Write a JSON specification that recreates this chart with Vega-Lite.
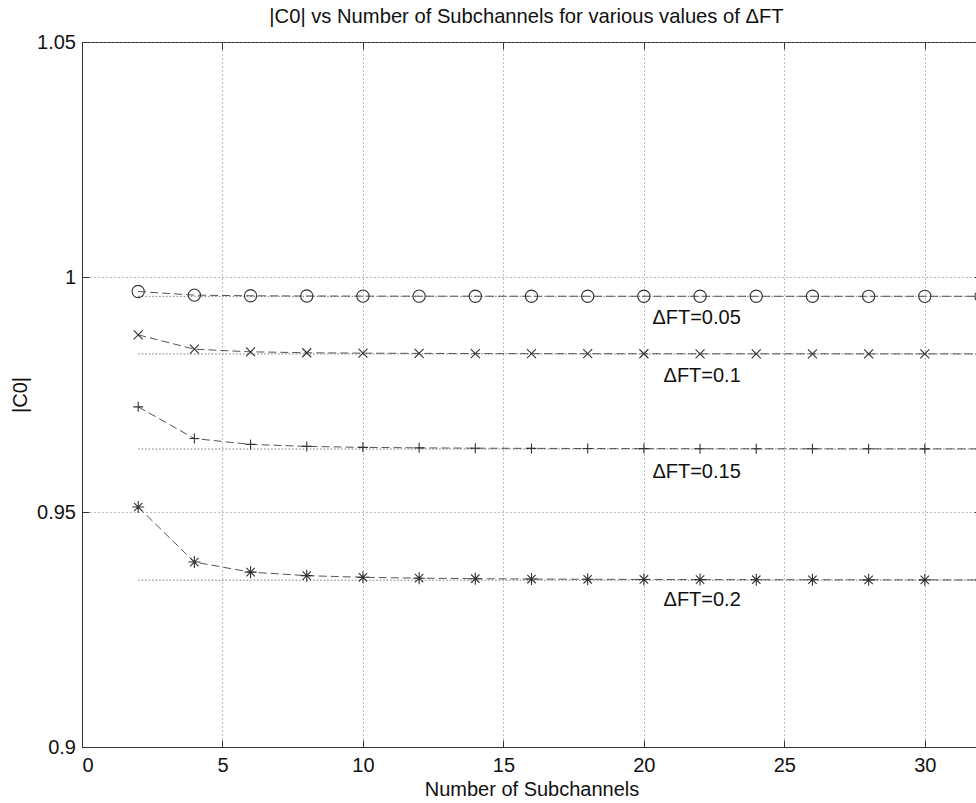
{
  "$schema": "https://vega.github.io/schema/vega-lite/v6.json",
  "width": 899,
  "height": 705,
  "autosize": "none",
  "padding": {"left": 82, "top": 42, "right": 0, "bottom": 56},
  "background": "white",
  "config": {
    "font": "Liberation Sans",
    "view": {"stroke": "#333", "strokeWidth": 1},
    "axis": {
      "labelFont": "Liberation Sans",
      "titleFont": "Liberation Sans",
      "labelFontSize": 20,
      "titleFontSize": 20,
      "labelColor": "#111",
      "titleColor": "#111",
      "titleFontWeight": "normal",
      "domainColor": "#333",
      "tickColor": "#333",
      "gridColor": "#777",
      "gridDash": [1, 3],
      "gridOpacity": 1,
      "gridWidth": 1
    }
  },
  "title": {
    "text": "|C0| vs Number of Subchannels for various values of ΔFT",
    "fontSize": 20.2,
    "fontWeight": "normal",
    "font": "Liberation Sans",
    "color": "#111",
    "offset": 5,
    "dx": -5
  },
  "datasets": {
    "curves": [
      {"eps": 0.05, "N": 2, "C0": 0.996917},
      {"eps": 0.05, "N": 4, "C0": 0.996144},
      {"eps": 0.05, "N": 6, "C0": 0.996002},
      {"eps": 0.05, "N": 8, "C0": 0.995952},
      {"eps": 0.05, "N": 10, "C0": 0.995929},
      {"eps": 0.05, "N": 12, "C0": 0.995916},
      {"eps": 0.05, "N": 14, "C0": 0.995909},
      {"eps": 0.05, "N": 16, "C0": 0.995904},
      {"eps": 0.05, "N": 18, "C0": 0.995901},
      {"eps": 0.05, "N": 20, "C0": 0.995898},
      {"eps": 0.05, "N": 22, "C0": 0.995896},
      {"eps": 0.05, "N": 24, "C0": 0.995895},
      {"eps": 0.05, "N": 26, "C0": 0.995894},
      {"eps": 0.05, "N": 28, "C0": 0.995893},
      {"eps": 0.05, "N": 30, "C0": 0.995893},
      {"eps": 0.05, "N": 32, "C0": 0.995892},
      {"eps": 0.1, "N": 2, "C0": 0.987688},
      {"eps": 0.1, "N": 4, "C0": 0.984646},
      {"eps": 0.1, "N": 6, "C0": 0.984081},
      {"eps": 0.1, "N": 8, "C0": 0.983885},
      {"eps": 0.1, "N": 10, "C0": 0.983794},
      {"eps": 0.1, "N": 12, "C0": 0.983744},
      {"eps": 0.1, "N": 14, "C0": 0.983715},
      {"eps": 0.1, "N": 16, "C0": 0.983695},
      {"eps": 0.1, "N": 18, "C0": 0.983682},
      {"eps": 0.1, "N": 20, "C0": 0.983672},
      {"eps": 0.1, "N": 22, "C0": 0.983665},
      {"eps": 0.1, "N": 24, "C0": 0.98366},
      {"eps": 0.1, "N": 26, "C0": 0.983656},
      {"eps": 0.1, "N": 28, "C0": 0.983653},
      {"eps": 0.1, "N": 30, "C0": 0.98365},
      {"eps": 0.1, "N": 32, "C0": 0.983648},
      {"eps": 0.15, "N": 2, "C0": 0.97237},
      {"eps": 0.15, "N": 4, "C0": 0.965629},
      {"eps": 0.15, "N": 6, "C0": 0.964387},
      {"eps": 0.15, "N": 8, "C0": 0.963953},
      {"eps": 0.15, "N": 10, "C0": 0.963753},
      {"eps": 0.15, "N": 12, "C0": 0.963645},
      {"eps": 0.15, "N": 14, "C0": 0.963579},
      {"eps": 0.15, "N": 16, "C0": 0.963536},
      {"eps": 0.15, "N": 18, "C0": 0.963507},
      {"eps": 0.15, "N": 20, "C0": 0.963486},
      {"eps": 0.15, "N": 22, "C0": 0.963471},
      {"eps": 0.15, "N": 24, "C0": 0.963459},
      {"eps": 0.15, "N": 26, "C0": 0.96345},
      {"eps": 0.15, "N": 28, "C0": 0.963442},
      {"eps": 0.15, "N": 30, "C0": 0.963437},
      {"eps": 0.15, "N": 32, "C0": 0.963432},
      {"eps": 0.2, "N": 2, "C0": 0.951057},
      {"eps": 0.2, "N": 4, "C0": 0.939347},
      {"eps": 0.2, "N": 6, "C0": 0.937205},
      {"eps": 0.2, "N": 8, "C0": 0.936456},
      {"eps": 0.2, "N": 10, "C0": 0.936109},
      {"eps": 0.2, "N": 12, "C0": 0.93592},
      {"eps": 0.2, "N": 14, "C0": 0.935807},
      {"eps": 0.2, "N": 16, "C0": 0.935734},
      {"eps": 0.2, "N": 18, "C0": 0.935683},
      {"eps": 0.2, "N": 20, "C0": 0.935647},
      {"eps": 0.2, "N": 22, "C0": 0.935616},
      {"eps": 0.2, "N": 24, "C0": 0.935596},
      {"eps": 0.2, "N": 26, "C0": 0.93558},
      {"eps": 0.2, "N": 28, "C0": 0.935567},
      {"eps": 0.2, "N": 30, "C0": 0.935557},
      {"eps": 0.2, "N": 32, "C0": 0.935549}
    ],
    "limits": [
      {"eps": 0.05, "N": 2, "C0": 0.995888},
      {"eps": 0.05, "N": 32, "C0": 0.995888},
      {"eps": 0.1, "N": 2, "C0": 0.983632},
      {"eps": 0.1, "N": 32, "C0": 0.983632},
      {"eps": 0.15, "N": 2, "C0": 0.963397},
      {"eps": 0.15, "N": 32, "C0": 0.963397},
      {"eps": 0.2, "N": 2, "C0": 0.935489},
      {"eps": 0.2, "N": 32, "C0": 0.935489}
    ],
    "labels": [
      {"label": "ΔFT=0.05", "N": 23.45, "C0": 0.9913},
      {"label": "ΔFT=0.1", "N": 23.45, "C0": 0.979},
      {"label": "ΔFT=0.15", "N": 23.45, "C0": 0.9586},
      {"label": "ΔFT=0.2", "N": 23.45, "C0": 0.9313}
    ]
  },
  "layer": [
    {
      "data": {"name": "limits"},
      "mark": {"type": "line", "color": "#777", "strokeWidth": 1, "strokeDash": [1.5, 2]},
      "encoding": {
        "x": {
          "field": "N", "type": "quantitative",
          "scale": {"domain": [0, 32], "nice": false, "zero": false},
          "axis": {
            "orient": "bottom",
            "values": [0, 5, 10, 15, 20, 25, 30],
            "grid": true,
            "tickSize": -7,
            "labelPadding": 15,
            "title": "Number of Subchannels",
            "titlePadding": 4
          }
        },
        "y": {
          "field": "C0", "type": "quantitative",
          "scale": {"domain": [0.9, 1.05], "nice": false, "zero": false},
          "axis": {
            "orient": "left",
            "values": [0.9, 0.95, 1, 1.05],
            "format": "~g",
            "grid": true,
            "tickSize": -7,
            "labelPadding": 13.5,
            "title": "|C0|",
            "titlePadding": 6
          }
        },
        "detail": {"field": "eps", "type": "nominal"}
      }
    },
    {
      "data": {"name": "curves"},
      "mark": {"type": "line", "color": "#555", "strokeWidth": 1, "strokeDash": [8, 4]},
      "encoding": {
        "x": {"field": "N", "type": "quantitative", "axis": null},
        "y": {"field": "C0", "type": "quantitative", "axis": null},
        "detail": {"field": "eps", "type": "nominal"}
      }
    },
    {
      "data": {"name": "curves"},
      "mark": {"type": "point", "filled": false, "stroke": "#333", "strokeWidth": 1.1, "opacity": 1},
      "encoding": {
        "x": {"field": "N", "type": "quantitative", "axis": null},
        "y": {"field": "C0", "type": "quantitative", "axis": null},
        "shape": {
          "field": "eps", "type": "nominal",
          "scale": {
            "domain": [0.05, 0.1, 0.15, 0.2],
            "range": ["circle", "M-1,-1L1,1M-1,1L1,-1", "M-1,0L1,0M0,-1L0,1", "M-1,0L1,0M0,-1L0,1M-0.7,-0.7L0.7,0.7M-0.7,0.7L0.7,-0.7"]
          },
          "legend": null
        },
        "size": {
          "field": "eps", "type": "nominal",
          "scale": {"type": "ordinal", "domain": [0.05, 0.1, 0.15, 0.2], "range": [150, 81, 100, 144]},
          "legend": null
        }
      }
    },
    {
      "data": {"name": "labels"},
      "mark": {"type": "text", "align": "right", "baseline": "middle", "fontSize": 20, "font": "Liberation Sans", "color": "#111"},
      "encoding": {
        "x": {"field": "N", "type": "quantitative", "axis": null},
        "y": {"field": "C0", "type": "quantitative", "axis": null},
        "text": {"field": "label", "type": "nominal"}
      }
    },
    {
      "data": {"name": "limits"},
      "mark": {"type": "point", "opacity": 0},
      "encoding": {
        "x": {
          "field": "N", "type": "quantitative",
          "axis": {"orient": "top", "values": [0, 5, 10, 15, 20, 25, 30], "labels": false, "title": null, "grid": false, "tickSize": -7, "domain": false}
        },
        "y": {
          "field": "C0", "type": "quantitative",
          "axis": {"orient": "right", "values": [0.9, 0.95, 1, 1.05], "labels": false, "title": null, "grid": false, "tickSize": -7, "domain": false}
        }
      }
    }
  ],
  "resolve": {"axis": {"x": "independent", "y": "independent"}}
}
